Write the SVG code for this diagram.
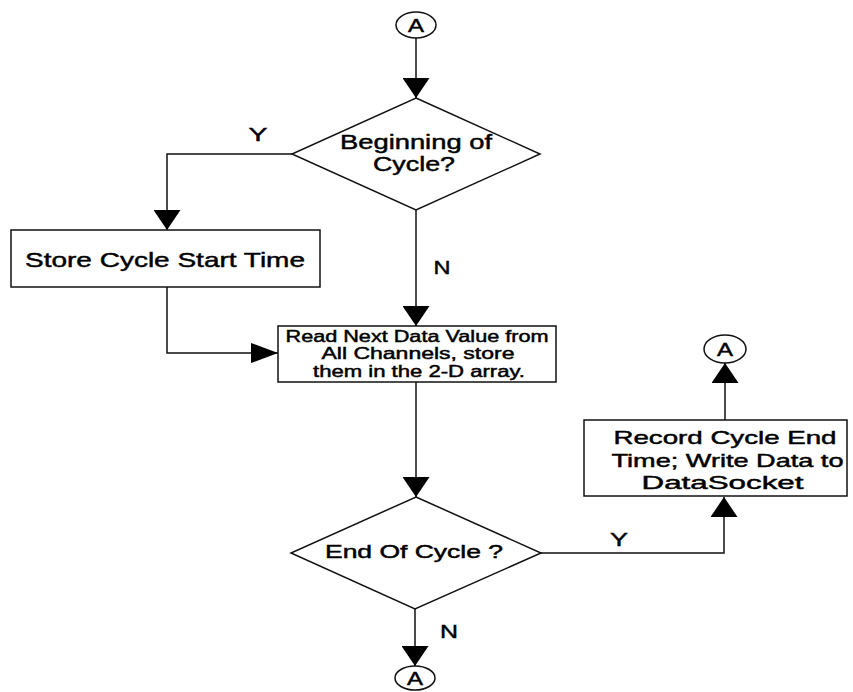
<svg xmlns="http://www.w3.org/2000/svg" width="853" height="692" viewBox="0 0 853 692">
  <defs>
    <!-- solid arrowheads: tall one for vertical runs, long one for horizontal runs -->
    <marker id="arrowV" viewBox="0 0 20 27" refX="20" refY="13.5" markerWidth="20" markerHeight="27" markerUnits="userSpaceOnUse" orient="auto">
      <path d="M0,0 L20,13.5 L0,27 Z" fill="#000"/>
    </marker>
    <marker id="arrowH" viewBox="0 0 27 20" refX="27" refY="10" markerWidth="27" markerHeight="20" markerUnits="userSpaceOnUse" orient="auto">
      <path d="M0,0 L27,10 L0,20 Z" fill="#000"/>
    </marker>
  </defs>
  <style>
    .shape { fill: #fff; stroke: #111; stroke-width: 1.5; }
    .wire { fill: none; stroke: #111; stroke-width: 1.5; }
    text { font-family: "Liberation Sans", Arial, sans-serif; fill: #000; stroke: #000; stroke-width: 0.45; text-anchor: middle; }
    .lbl { font-size: 19px; }
    .conn { font-size: 18px; }
  </style>

  <rect width="853" height="692" fill="#fff"/>

  <!-- connectors -->
  <g id="connectors">
    <path class="wire" d="M416,38 L416,98" marker-end="url(#arrowV)"/>
    <path class="wire" d="M292,154 L167,154 L167,230" marker-end="url(#arrowV)"/>
    <path class="wire" d="M416,210 L416,326" marker-end="url(#arrowV)"/>
    <path class="wire" d="M167,287 L167,353 L278,353" marker-end="url(#arrowH)"/>
    <path class="wire" d="M416,382 L416,497" marker-end="url(#arrowV)"/>
    <path class="wire" d="M541,553 L724,553 L724,497" marker-end="url(#arrowV)"/>
    <path class="wire" d="M725,420 L725,363" marker-end="url(#arrowV)"/>
    <path class="wire" d="M415,609 L415,666" marker-end="url(#arrowV)"/>
    <text class="lbl" x="258" y="141" textLength="19" lengthAdjust="spacingAndGlyphs">Y</text>
    <text class="lbl" x="442" y="274" textLength="17" lengthAdjust="spacingAndGlyphs">N</text>
    <text class="lbl" x="619" y="546" textLength="18" lengthAdjust="spacingAndGlyphs">Y</text>
    <text class="lbl" x="449" y="638" textLength="18" lengthAdjust="spacingAndGlyphs">N</text>
  </g>

  <!-- connector A, top -->
  <g id="connA-top">
    <ellipse class="shape" cx="416" cy="25" rx="20" ry="13"/>
    <text class="conn" x="416" y="31.5" textLength="16" lengthAdjust="spacingAndGlyphs">A</text>
  </g>

  <!-- decision: beginning of cycle -->
  <g id="begin-cycle">
    <polygon class="shape" points="416,98 540,154 416,210 292,154"/>
    <text x="416" y="149" font-size="20" textLength="152" lengthAdjust="spacingAndGlyphs">Beginning of</text>
    <text x="414" y="171" font-size="20" textLength="82" lengthAdjust="spacingAndGlyphs">Cycle?</text>
  </g>

  <!-- store start time -->
  <g id="store-start">
    <rect class="shape" x="11" y="230" width="309" height="57"/>
    <text x="165" y="267" font-size="21" textLength="280" lengthAdjust="spacingAndGlyphs">Store Cycle Start Time</text>
  </g>

  <!-- read data -->
  <g id="read-data">
    <rect class="shape" x="278" y="326" width="278" height="56"/>
    <text x="417" y="341.5" font-size="16" textLength="263" lengthAdjust="spacingAndGlyphs">Read Next Data Value from</text>
    <text x="418" y="359" font-size="16" textLength="193" lengthAdjust="spacingAndGlyphs">All Channels, store</text>
    <text x="419" y="376.5" font-size="16" textLength="212" lengthAdjust="spacingAndGlyphs">them in the 2-D array.</text>
  </g>

  <!-- decision: end of cycle -->
  <g id="end-cycle">
    <polygon class="shape" points="416,497 541,553 415,609 291,553"/>
    <text x="414" y="558" font-size="18" textLength="178" lengthAdjust="spacingAndGlyphs">End Of Cycle ?</text>
  </g>

  <!-- record end time -->
  <g id="record-end">
    <rect class="shape" x="584" y="420" width="263" height="76"/>
    <text x="725" y="444" font-size="18.5" textLength="223" lengthAdjust="spacingAndGlyphs">Record Cycle End</text>
    <text x="727.5" y="466.5" font-size="18.5" textLength="232" lengthAdjust="spacingAndGlyphs">Time; Write Data to</text>
    <text x="722.5" y="488.5" font-size="18.5" textLength="162" lengthAdjust="spacingAndGlyphs">DataSocket</text>
  </g>

  <!-- connector A, after record -->
  <g id="connA-right">
    <ellipse class="shape" cx="725" cy="349" rx="21" ry="14"/>
    <text class="conn" x="725" y="355.5" textLength="16" lengthAdjust="spacingAndGlyphs">A</text>
  </g>

  <!-- connector A, bottom -->
  <g id="connA-bottom">
    <ellipse class="shape" cx="415" cy="678" rx="20" ry="12"/>
    <text class="conn" x="415" y="684.5" textLength="16" lengthAdjust="spacingAndGlyphs">A</text>
  </g>
</svg>
